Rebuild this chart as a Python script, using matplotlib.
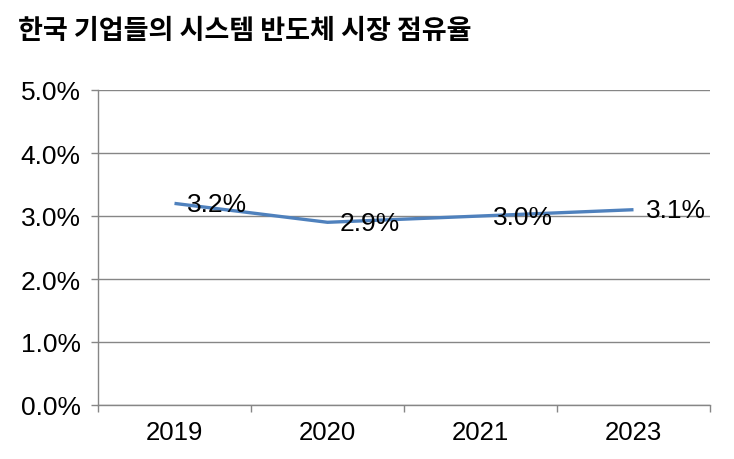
import matplotlib
matplotlib.use("Agg")
from matplotlib import pyplot as plt
from matplotlib.ticker import FixedLocator, PercentFormatter

# chart data
years = ["2019", "2020", "2021", "2023"]
share = [3.2, 2.9, 3.0, 3.1]
share_labels = ["3.2%", "2.9%", "3.0%", "3.1%"]
y_ticks = [0, 1, 2, 3, 4, 5]

title = "한국 기업들의 시스템 반도체 시장 점유율"

line_color = "#4f81bd"
grid_color = "#868686"
num_font = ['Liberation Sans', 'DejaVu Sans']

plt.rcParams['font.family'] = num_font + ['Noto Sans CJK KR']

fig = plt.figure(figsize=(7.34, 4.6), dpi=100)
ax = fig.add_axes([98/734, 54/460, 612/734, 315/460])

x = list(range(len(years)))
ax.plot(x, share, color=line_color, linewidth=2.4, solid_capstyle="butt")

for xi, yi, lab in zip(x, share, share_labels):
	ax.annotate(lab, (xi, yi), xytext=(9, -0.5), textcoords="offset points",
		ha="left", va="center", fontsize=19, color="black")

ax.set_xlim(-0.5, len(years) - 0.5)
ax.set_ylim(0, 5)

# category boundary ticks, labels in the middle
ax.xaxis.set_major_locator(FixedLocator([i - 0.5 for i in range(len(years) + 1)]))
ax.xaxis.set_minor_locator(FixedLocator(x))
ax.set_xticklabels([], minor=False)
ax.set_xticklabels(years, minor=True, fontsize=18.5)
ax.tick_params(axis="x", which="major", length=5, color=grid_color, width=1)
ax.tick_params(axis="x", which="minor", length=0, pad=11)

ax.set_yticks(y_ticks)
ax.yaxis.set_major_formatter(PercentFormatter(decimals=1))
ax.tick_params(axis="y", length=5, color=grid_color, width=1, labelsize=19, pad=7.5)

ax.grid(axis="y", color=grid_color, linewidth=1)
ax.set_axisbelow(True)
for side in ["top", "right"]:
	ax.spines[side].set_visible(False)
for side in ["left", "bottom"]:
	ax.spines[side].set_color(grid_color)
	ax.spines[side].set_linewidth(1)

fig.text(18/734, 1 - 31/460, title, family=['Noto Sans CJK KR'], fontsize=19.5,
	fontweight="bold", va="center", ha="left")

fig.savefig("out.png", dpi=100)
